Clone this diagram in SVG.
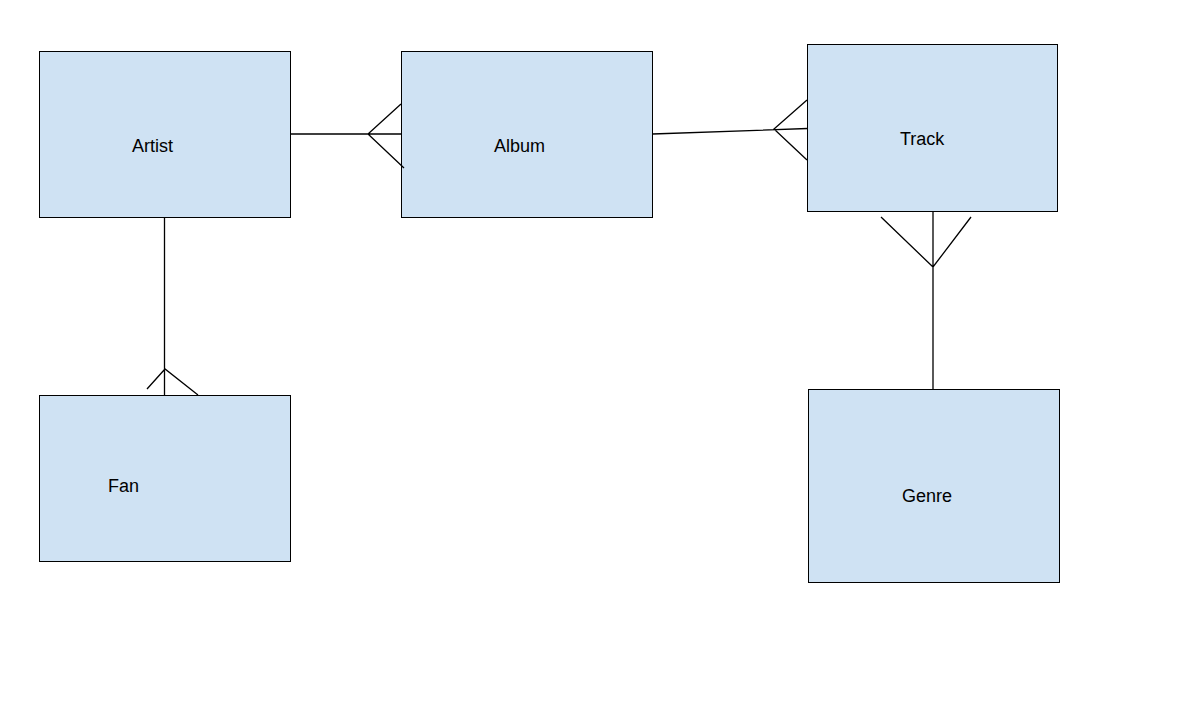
<svg xmlns="http://www.w3.org/2000/svg" width="1193" height="713" viewBox="0 0 1193 713">
<style>
.box{fill:#cfe2f3;stroke:#000;stroke-width:1}
.lbl{font-family:"Liberation Sans",Arial,sans-serif;font-size:18px;fill:#000}
.ln{fill:none;stroke:#000;stroke-width:1.3}
</style>
<rect width="1193" height="713" fill="#fff"/>
<g id="artist"><rect class="box" x="39.5" y="51.5" width="251" height="166"/><text class="lbl" x="132" y="152">Artist</text></g>
<g id="album"><rect class="box" x="401.5" y="51.5" width="251" height="166"/><text class="lbl" x="494" y="152">Album</text></g>
<g id="track"><rect class="box" x="807.5" y="44.5" width="250" height="167"/><text class="lbl" x="900" y="145">Track</text></g>
<g id="fan"><rect class="box" x="39.5" y="395.5" width="251" height="166"/><text class="lbl" x="108" y="492">Fan</text></g>
<g id="genre"><rect class="box" x="808.5" y="389.5" width="251" height="193"/><text class="lbl" x="902" y="502">Genre</text></g>
<g id="connectors">
<path class="ln" d="M290.5,134 L401.5,134 M401,104 L368,134 L404,168"/>
<path class="ln" d="M652.5,134 L807.5,128.5 M807,100 L774,129 L807,160"/>
<path class="ln" d="M933,211.5 L933,389.5 M881,217 L933,267 L971,217"/>
<path class="ln" d="M164.5,217.5 L164.5,395.5 M147,389 L165,369 L198,395"/>
</g>
</svg>
